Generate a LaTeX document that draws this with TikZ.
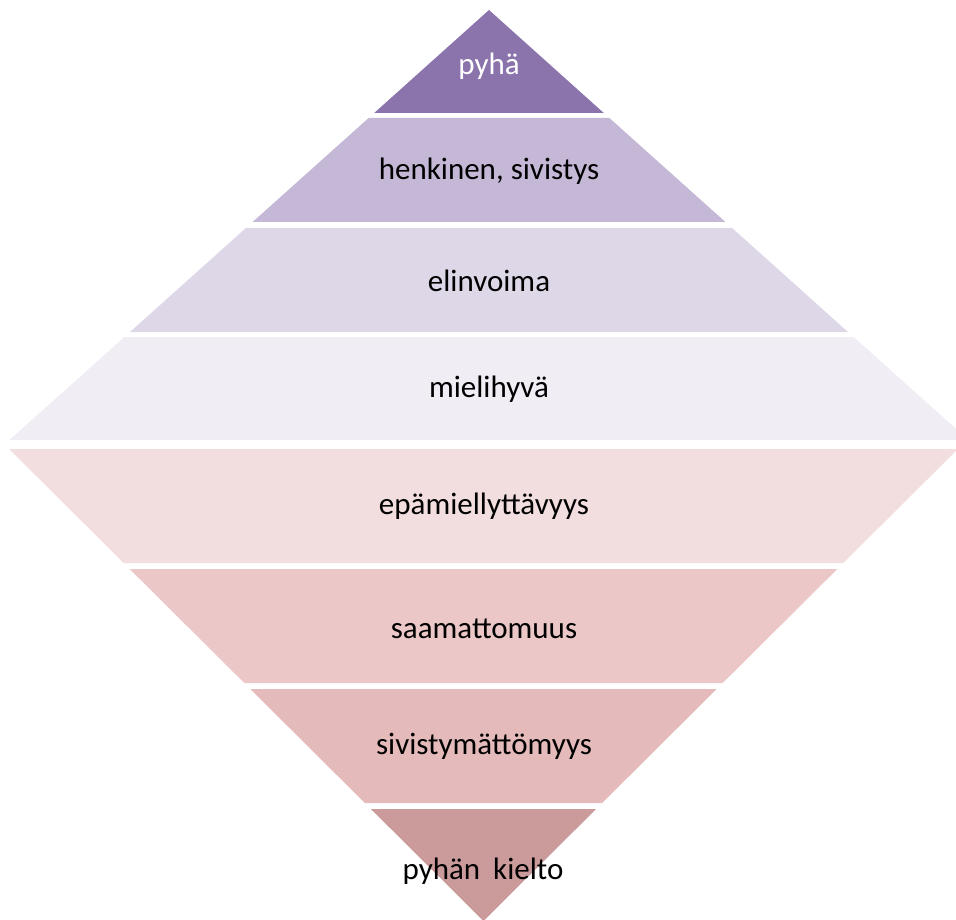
\documentclass[tikz,border=0pt]{standalone}
\usepackage{fontspec}
\setmainfont{Carlito}
\usetikzlibrary{positioning}

\definecolor{tierA}{HTML}{8B74AC}
\definecolor{tierB}{HTML}{C4B8D6}
\definecolor{tierC}{HTML}{DED7E8}
\definecolor{tierD}{HTML}{F0EDF4}
\definecolor{tierE}{HTML}{F2DEDF}
\definecolor{tierF}{HTML}{EBC7C7}
\definecolor{tierG}{HTML}{E4BBBA}
\definecolor{tierH}{HTML}{CB9A9A}

\begin{document}
\begin{tikzpicture}[x=1pt,y=-1pt,
  tier label/.style={font=\fontsize{31}{36}\selectfont,inner sep=0pt,text=black}]
\useasboundingbox (0,0) rectangle (956,920);
\clip (0,0) rectangle (956,920);

% upper pyramid
\fill[tierA] (489,10) -- (603.8,113) -- (374.2,113) -- cycle;
\fill[tierB] (368.6,118) -- (609.4,118) -- (725.4,222) -- (252.6,222) -- cycle;
\fill[tierC] (245.9,228) -- (732.1,228) -- (848.0,332) -- (130.0,332) -- cycle;
\fill[tierD] (124.4,337) -- (853.6,337) -- (968.5,440) -- (9.5,440) -- cycle;

% lower pyramid
\fill[tierE] (9.1,449) -- (957.9,449) -- (843.3,563) -- (123.7,563) -- cycle;
\fill[tierF] (129.7,569) -- (837.3,569) -- (722.7,683) -- (244.3,683) -- cycle;
\fill[tierG] (250.3,689) -- (716.7,689) -- (602.1,803) -- (364.9,803) -- cycle;
\fill[tierH] (370.9,809) -- (596.1,809) -- (483.5,921) -- cycle;

\node[tier label,text=white] (pyha) at (489,66) {pyhä};
\node[tier label] (henkinen) at (489,171) {henkinen, sivistys};
\node[tier label] (elinvoima) at (489,281) {elinvoima};
\node[tier label] (mielihyva) at (489,389) {mielihyvä};
\node[tier label] (epamiel) at (484,506) {epämiellyttävyys};
\node[tier label] (saamatt) at (484,629) {saamattomuus};
\node[tier label] (sivistym) at (484,746) {sivistymättömyys};
\node[tier label] (kielto) at (483,871) {pyhän\hspace{0.42em}kielto};
\end{tikzpicture}
\end{document}
